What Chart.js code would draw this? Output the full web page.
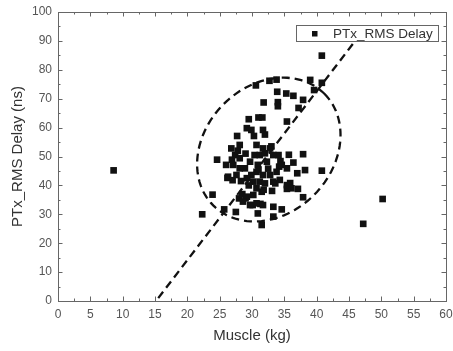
<!DOCTYPE html>
<html>
<head>
<meta charset="utf-8">
<script src="https://cdn.jsdelivr.net/npm/chart.js@4.4.0/dist/chart.umd.min.js"></script>
<style>
  html, body { margin: 0; padding: 0; background: #fff; }
  canvas { display: block; }
</style>
</head>
<body>
<canvas id="scatterchart" width="453" height="351"></canvas>
<script>
"use strict";

/*----------------------------------------*/
/*  data
/*----------------------------------------*/
var muscle = [8.6, 22.3, 23.9, 24.6, 25.7, 26.2, 27.5, 27.7, 29.5, 29.2, 29.9, 30.6, 30.3, 31.0, 31.6,
  31.8, 32.0, 31.7, 32.7, 33.8, 33.9, 34.0, 34.0, 35.3, 36.4, 37.9, 37.2, 35.4, 39.0, 39.6,
  40.8, 40.8, 40.8, 37.9, 38.2, 37.9, 37.1, 37.0, 36.4, 35.7, 35.4, 35.9, 34.6, 33.3, 33.3,
  33.1, 33.6, 34.2, 34.4, 34.1, 31.5, 30.9, 30.1, 31.3, 28.0, 29.0, 28.5, 47.2, 50.2,
  26.8, 27.4, 27.1, 26.3, 27.6, 28.9, 29.7, 30.4, 31.2, 32.0, 32.8, 31.7, 33.3, 34.6, 35.4,
  33.8, 32.8, 31.7, 30.7, 29.9, 29.2, 30.2, 31.2, 32.0, 33.3, 34.3, 35.4, 36.1, 30.7, 31.5,
  30.2, 29.2, 28.6, 29.7, 30.7, 31.7, 26.0, 28.1, 28.1, 30.7, 32.3, 30.9, 28.1, 27.8, 29.0,
  31.0, 29.5, 32.5, 31.8, 28.3, 33.0, 27.0, 26.9];
var delay = [45.2, 30.0, 36.8, 48.9, 31.7, 42.6, 30.8, 57.1, 62.9, 59.8, 59.2, 74.6, 57.1, 63.5, 63.5,
  68.7, 57.6, 59.2, 76.2, 76.6, 72.4, 68.8, 67.4, 71.8, 71.0, 69.6, 66.8, 62.1, 76.5, 73.0,
  75.5, 84.9, 45.1, 50.8, 45.3, 35.9, 38.8, 44.2, 47.9, 50.6, 38.8, 40.8, 31.7, 29.2, 32.6,
  38.1, 40.7, 46.5, 48.4, 50.5, 26.3, 30.3, 33.2, 33.6, 35.5, 35.5, 37.0, 26.7, 35.3,
  52.8, 50.5, 47.1, 43.0, 43.6, 45.9, 48.2, 50.5, 50.5, 51.1, 52.8, 52.8, 50.5, 47.1, 45.9,
  44.7, 43.6, 43.6, 44.7, 43.6, 42.5, 41.3, 41.3, 40.7, 41.3, 41.9, 40.1, 39.0, 39.0, 37.8,
  36.7, 36.1, 34.4, 33.2, 33.8, 33.2, 47.1, 54.0, 49.4, 54.0, 48.2, 47.1, 45.9, 52.0, 51.0,
  45.5, 40.0, 45.8, 38.5, 41.5, 53.5, 41.8, 48.9];

// dashed trend line end points
var trendX = [15.5, 46.3];
var trendY = [1.0, 91.0];

// dashed ellipse: centre and two half-axis vectors (kg, ns)
var ellipseCenter = [32.6, 52.4];
var ellipseU = [8.6, 19.3];
var ellipseV = [7.0, -15.7];

var seriesLabel = 'PTx_RMS Delay';

var points = muscle.map(function (m, i) { return { x: m, y: delay[i] }; });
var trend = trendX.map(function (t, i) { return { x: t, y: trendY[i] }; });

var FONT = "'Liberation Sans', Arial, sans-serif";

/*----------------------------------------*/
/*  frame, inward ticks, ellipse, legend
/*----------------------------------------*/
var decorations = {
  id: 'decorations',
  afterDatasetsDraw: function (chart) {
    var ctx = chart.ctx, xs = chart.scales.x, ys = chart.scales.y;
    ctx.save();
    ctx.beginPath();
    for (var k = 0; k <= 120; k++) {
      var t = k / 120 * Math.PI * 2;
      var px = xs.getPixelForValue(ellipseCenter[0] + ellipseU[0] * Math.cos(t) + ellipseV[0] * Math.sin(t));
      var py = ys.getPixelForValue(ellipseCenter[1] + ellipseU[1] * Math.cos(t) + ellipseV[1] * Math.sin(t));
      if (k === 0) ctx.moveTo(px, py); else ctx.lineTo(px, py);
    }
    ctx.setLineDash([8, 5]);
    ctx.lineWidth = 2.3;
    ctx.strokeStyle = '#111';
    ctx.stroke();
    ctx.restore();
  },
  afterDraw: function (chart) {
    var ctx = chart.ctx, a = chart.chartArea, xs = chart.scales.x, ys = chart.scales.y;
    var v, p, len;
    ctx.save();
    ctx.strokeStyle = '#666';
    ctx.lineWidth = 1;
    ctx.beginPath();
    for (v = 0; v <= 60; v += 2.5) {
      p = Math.round(xs.getPixelForValue(v)) + 0.5;
      len = (v % 5 === 0) ? 4.5 : 2.5;
      ctx.moveTo(p, a.bottom); ctx.lineTo(p, a.bottom - len);
      ctx.moveTo(p, a.top); ctx.lineTo(p, a.top + len);
    }
    for (v = 0; v <= 100; v += 5) {
      p = Math.round(ys.getPixelForValue(v)) + 0.5;
      len = (v % 10 === 0) ? 4.5 : 2.5;
      ctx.moveTo(a.left, p); ctx.lineTo(a.left + len, p);
      ctx.moveTo(a.right, p); ctx.lineTo(a.right - len, p);
    }
    ctx.stroke();
    ctx.strokeRect(Math.round(a.left) + 0.5, Math.round(a.top) + 0.5,
      Math.round(a.right - a.left), Math.round(a.bottom - a.top));

    // legend box
    var lx = 296.5, ly = 25.5, lw = 142, lh = 16;
    ctx.fillStyle = '#fff';
    ctx.fillRect(lx, ly, lw, lh);
    ctx.strokeStyle = '#666';
    ctx.strokeRect(lx, ly, lw, lh);
    ctx.fillStyle = '#111';
    ctx.fillRect(312, 31, 5.5, 5.5);
    ctx.fillStyle = '#333';
    ctx.font = '13.5px ' + FONT;
    ctx.textBaseline = 'middle';
    ctx.fillText(seriesLabel, 333, 34);
    ctx.restore();
  }
};

/*----------------------------------------*/
/*  scatter chart
/*----------------------------------------*/
var ctx = document.getElementById("scatterchart");
var scatterchart = new Chart(ctx, {
  type: 'scatter',
  data: {
    datasets: [{
      label: seriesLabel,
      data: points,
      pointStyle: 'rect',
      pointRadius: 4.7,
      pointHoverRadius: 4.7,
      backgroundColor: '#111',
      borderWidth: 0
    }, {
      type: 'line',
      label: 'trend',
      data: trend,
      borderColor: '#111',
      borderWidth: 2.3,
      borderDash: [8, 5],
      pointRadius: 0,
      fill: false
    }]
  },
  plugins: [decorations],
  options: {
    responsive: false,
    animation: false,
    devicePixelRatio: 1,
    layout: { padding: { top: 12, right: 7, left: 0, bottom: 0 } },
    plugins: {
      legend: { display: false },
      tooltip: { enabled: false }
    },
    scales: {
      x: {
        type: 'linear',
        min: 0,
        max: 60,
        grid: { display: false, drawTicks: false },
        border: { display: false },
        ticks: { stepSize: 5, padding: 6, color: '#555', font: { size: 12, family: FONT } },
        title: { display: true, text: 'Muscle (kg)', color: '#333', font: { size: 15, family: FONT }, padding: { top: 0, bottom: 6 } },
        afterFit: function (scale) {
          scale.height = 50;
          // let the last tick label run past the frame
          scale.paddingLeft = 0;
          scale.paddingRight = 0;
        }
      },
      y: {
        type: 'linear',
        min: 0,
        max: 100,
        grid: { display: false, drawTicks: false },
        border: { display: false },
        ticks: { stepSize: 10, padding: 6, color: '#555', font: { size: 12, family: FONT } },
        title: { display: true, text: 'PTx_RMS Delay (ns)', color: '#333', font: { size: 15, family: FONT }, padding: { top: 9, bottom: 0 } },
        afterFit: function (scale) {
          scale.width = 58;
          scale.paddingTop = 0;
          scale.paddingBottom = 0;
        }
      }
    }
  }
});
</script>
</body>
</html>
